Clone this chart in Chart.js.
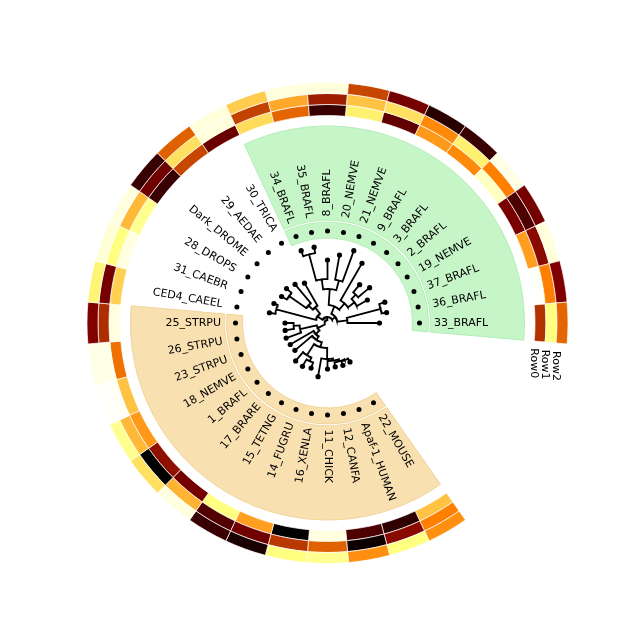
<!DOCTYPE html>
<html>
<head>
<meta charset="utf-8">
<script src="https://cdn.jsdelivr.net/npm/chart.js@4.4.1/dist/chart.umd.min.js"></script>
<style>
  body { margin: 0; background: #fff; }
  #wrap { position: relative; width: 640px; height: 640px; }
  #wrap canvas { position: absolute; left: 0; top: 0; }
</style>
</head>
<body>
<div id="wrap">
  <canvas id="ring" width="640" height="640"></canvas>
  <canvas id="tree" width="640" height="640"></canvas>
</div>
<script>
// leaves, clockwise from the start of the circle
var leafNames = ['22_MOUSE', 'Apaf-1_HUMAN', '12_CANFA', '11_CHICK', '16_XENLA', '14_FUGRU',
  '15_TETNG', '17_BRARE', '1_BRAFL', '18_NEMVE', '23_STRPU', '26_STRPU', '25_STRPU',
  'CED4_CAEEL', '31_CAEBR', '28_DROPS', 'Dark_DROME', '29_AEDAE', '30_TRICA',
  '34_BRAFL', '35_BRAFL', '8_BRAFL', '20_NEMVE', '21_NEMVE', '9_BRAFL', '3_BRAFL',
  '2_BRAFL', '19_NEMVE', '37_BRAFL', '36_BRAFL', '33_BRAFL'];

// heatmap rows (Row0 = inner ring)
var rowNames = ['Row0', 'Row1', 'Row2'];
var row0 = [37, 91, 85, 6, 100, 44, 25, 77, 72, 45, 37, 53, 6, 34, 6, 22, 89, 61, 79, 32, 55, 89, 28, 81, 45, 48, 12, 76, 44, 1, 65];
var row1 = [50, 73, 97, 56, 64, 78, 84, 40, 100, 39, 2, 5, 66, 77, 25, 39, 78, 31, 7, 62, 42, 69, 37, 31, 48, 28, 50, 85, 73, 50, 25];
var row2 = [47, 25, 47, 22, 25, 95, 89, 6, 31, 22, 1, 5, 75, 27, 8, 6, 89, 56, 7, 35, 7, 7, 61, 77, 92, 89, 5, 77, 7, 75, 55];
var vMin = 0, vMax = 100;

// highlighted clades
var hlFirst = ['22_MOUSE', '34_BRAFL'];
var hlLast = ['25_STRPU', '33_BRAFL'];
var hlFill = ['#f8e0b0', '#c6f5c8'];
var hlEdge = ['#f1d398', '#b4edb8'];

// tree with branch lengths
var treeNewick =
  '(((((((((22_MOUSE:4,Apaf-1_HUMAN:4):1,12_CANFA:4.5):2,11_CHICK:8):2,16_XENLA:18.5):11,' +
  '((14_FUGRU:6,15_TETNG:8):4,17_BRARE:11.5):13):5,1_BRAFL:22.5):4,18_NEMVE:27):5,' +
  '(23_STRPU:16,(26_STRPU:9,25_STRPU:8.5):6):17):8,' +
  '(((CED4_CAEEL:6,31_CAEBR:4):41,(((28_DROPS:6,Dark_DROME:6.5):21,29_AEDAE:24.5):6,30_TRICA:26):8):6,' +
  '(((((34_BRAFL:6,35_BRAFL:6):27,8_BRAFL:19):10,(20_NEMVE:25,21_NEMVE:33):10):16,' +
  '(9_BRAFL:43,((3_BRAFL:10,2_BRAFL:15):6,19_NEMVE:12):8):8):8,' +
  '((37_BRAFL:6,36_BRAFL:5):35,33_BRAFL:32):10):4):3);';

// geometry (px radii)
var angleStart = -215, gapUnits = 5;
var R_OUT = 240.5, ROW_W = 11, HL_OUT = 197, HL_MID_OUT = 103, HL_MID_IN = 101, HL_IN = 85;
var MARKER_R = 92, LABEL_R = 106.5, ROOT_R = 3;
var FONT = '11px "DejaVu Sans"';

var leafStep = 360 / (leafNames.length + gapUnits);
function leafAngle(i) { return angleStart + leafStep * (i + 0.5); }
function polar(r, deg) {
  var a = deg * Math.PI / 180;
  return { x: r * Math.sin(a), y: r * Math.cos(a) };
}

// afmhot_r
function hotColor(v) {
  var t = 1 - (v - vMin) / (vMax - vMin);
  var c = function (k) { return Math.round(255 * Math.min(1, Math.max(0, 2 * t - k))); };
  return 'rgb(' + c(0) + ',' + c(0.5) + ',' + c(1) + ')';
}

var clear = 'rgba(0,0,0,0)';
var cellUnits = leafNames.map(function () { return 1; }).concat([gapUnits]);

function heatRing(vals) {
  return {
    data: cellUnits,
    backgroundColor: vals.map(hotColor).concat([clear]),
    borderColor: '#fff',
    borderWidth: vals.map(function () { return 0.7; }).concat([0]),
    weight: ROW_W
  };
}
function spacer(w) {
  return { data: [1], backgroundColor: clear, borderWidth: 0, weight: w };
}
function highlightRing(w) {
  var spans = [], fills = [], edges = [], widths = [];
  var cur = null;
  leafNames.forEach(function (name, i) {
    var k = -1;
    hlFirst.forEach(function (f, j) {
      var a = leafNames.indexOf(f), b = leafNames.indexOf(hlLast[j]);
      if (i >= Math.min(a, b) && i <= Math.max(a, b)) k = j;
    });
    if (cur === k && spans.length) { spans[spans.length - 1] += 1; }
    else {
      spans.push(1);
      fills.push(k < 0 ? clear : hlFill[k]);
      edges.push(k < 0 ? clear : hlEdge[k]);
      widths.push(k < 0 ? 0 : 1);
      cur = k;
    }
  });
  spans.push(gapUnits); fills.push(clear); edges.push(clear); widths.push(0);
  return { data: spans, backgroundColor: fills, borderColor: edges, borderWidth: widths, weight: w };
}

new Chart(document.getElementById('ring'), {
  type: 'doughnut',
  data: {
    datasets: [
      heatRing(row2),
      heatRing(row1),
      heatRing(row0),
      spacer(R_OUT - 3 * ROW_W - HL_OUT),
      highlightRing(HL_OUT - HL_MID_OUT),
      spacer(HL_MID_OUT - HL_MID_IN),
      highlightRing(HL_MID_IN - HL_IN)
    ]
  },
  options: {
    responsive: false,
    animation: false,
    events: [],
    rotation: angleStart,
    circumference: 360,
    radius: R_OUT,
    cutout: (HL_IN / R_OUT * 100) + '%',
    layout: { padding: { left: 15, top: 6 } },
    plugins: { legend: { display: false }, tooltip: { enabled: false } }
  }
});

// parse and lay out the tree
function parseNewick(s) {
  var i = 0;
  function node() {
    var n = { children: null, name: '', len: 0 };
    if (s[i] === '(') {
      n.children = [];
      i++;
      n.children.push(node());
      while (s[i] === ',') { i++; n.children.push(node()); }
      i++;
    }
    var name = '';
    while (i < s.length && ',():;'.indexOf(s[i]) < 0) name += s[i++];
    n.name = name.trim();
    if (s[i] === ':') {
      i++;
      var num = '';
      while (i < s.length && ',();'.indexOf(s[i]) < 0) num += s[i++];
      n.len = parseFloat(num);
    }
    return n;
  }
  return node();
}

var tree = parseNewick(treeNewick);
function layout(n, r) {
  n.r = r + n.len;
  if (!n.children) { n.angle = leafAngle(leafNames.indexOf(n.name)); return; }
  n.children.forEach(function (c) { layout(c, n.r); });
  n.angle = (n.children[0].angle + n.children[n.children.length - 1].angle) / 2;
}
layout(tree, ROOT_R);

var treeLines = [], tipPoints = [];
function addBranches(n) {
  if (!n.children) { tipPoints.push(polar(n.r, n.angle)); return; }
  var a0 = n.children[0].angle, a1 = n.children[n.children.length - 1].angle;
  for (var a = a0; a < a1; a += 1) treeLines.push(polar(n.r, a));
  treeLines.push(polar(n.r, a1), { x: null, y: null });
  n.children.forEach(function (c) {
    treeLines.push(polar(n.r, c.angle), polar(c.r, c.angle), { x: null, y: null });
    addBranches(c);
  });
}
addBranches(tree);

var markerPoints = leafNames.map(function (n, i) { return polar(MARKER_R, leafAngle(i)); });

var labelPlugin = {
  id: 'leafLabels',
  afterDatasetsDraw: function (chart) {
    var ctx = chart.ctx, xs = chart.scales.x, ys = chart.scales.y;
    ctx.save();
    ctx.font = FONT;
    ctx.fillStyle = '#000';
    ctx.textBaseline = 'middle';
    leafNames.forEach(function (name, i) {
      var deg = ((leafAngle(i) % 360) + 360) % 360;
      var p = polar(LABEL_R, deg);
      ctx.save();
      ctx.translate(xs.getPixelForValue(p.x), ys.getPixelForValue(p.y));
      if (deg <= 180) {
        ctx.rotate((deg - 90) * Math.PI / 180);
        ctx.textAlign = 'left';
      } else {
        ctx.rotate((deg + 90) * Math.PI / 180);
        ctx.textAlign = 'right';
      }
      ctx.fillText(name, 0, 0);
      ctx.restore();
    });
    // row labels just past the end of the heatmap
    var endDeg = angleStart + 360 - gapUnits * leafStep + 2;
    rowNames.forEach(function (name, k) {
      var r = R_OUT - 3 * ROW_W + ROW_W * (k + 0.5) - 5;
      var p = polar(r, endDeg);
      ctx.save();
      ctx.translate(xs.getPixelForValue(p.x), ys.getPixelForValue(p.y));
      ctx.rotate(Math.PI / 2);
      ctx.textAlign = 'left';
      ctx.fillText(name, 0, 0);
      ctx.restore();
    });
    ctx.restore();
  }
};

new Chart(document.getElementById('tree'), {
  type: 'scatter',
  data: {
    datasets: [
      { data: treeLines, showLine: true, spanGaps: false, borderColor: '#000', borderWidth: 1.8,
        pointRadius: 0, borderCapStyle: 'square' },
      { data: tipPoints, pointRadius: 2.6, backgroundColor: '#000', borderWidth: 0 },
      { data: markerPoints, pointRadius: 2.5, backgroundColor: '#000', borderWidth: 0 }
    ]
  },
  options: {
    responsive: false,
    animation: false,
    events: [],
    layout: { autoPadding: false, padding: { left: 15, top: 6 } },
    scales: {
      x: { type: 'linear', min: -312.5, max: 312.5, display: false },
      y: { type: 'linear', min: -317, max: 317, display: false }
    },
    plugins: { legend: { display: false }, tooltip: { enabled: false } }
  },
  plugins: [labelPlugin]
});
</script>
</body>
</html>
